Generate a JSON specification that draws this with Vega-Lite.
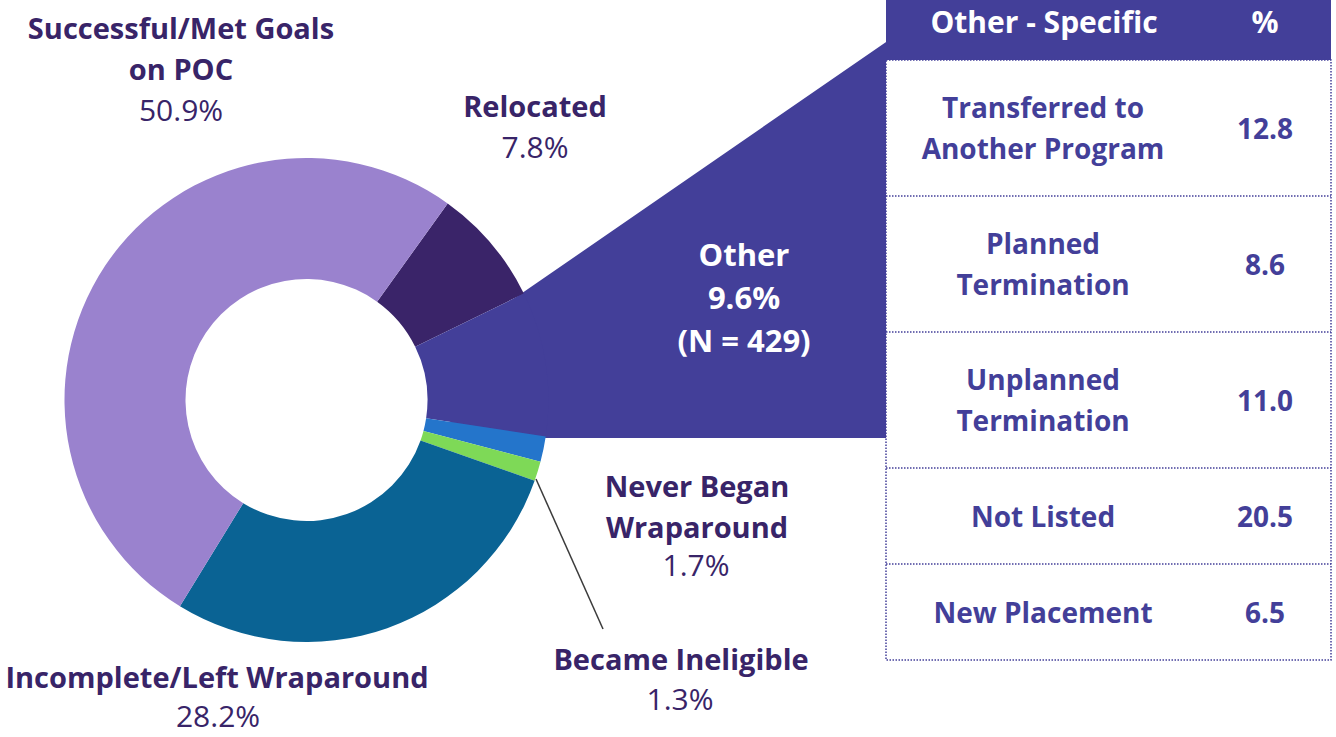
{
  "$schema": "https://vega.github.io/schema/vega-lite/v6.json",
  "width": 1336,
  "height": 737,
  "autosize": {"type": "none"},
  "padding": 0,
  "background": "white",
  "config": {"view": {"stroke": null}, "font": "Open Sans"},
  "datasets": {
    "slices": [
      {"category": "Relocated", "label": "Relocated", "share": 0.078, "ord": 1},
      {"category": "Other", "label": "Other", "share": 0.096, "n": 429, "ord": 2},
      {"category": "Never Began Wraparound", "label": "Never Began\nWraparound", "share": 0.017, "ord": 3},
      {"category": "Became Ineligible", "label": "Became Ineligible", "share": 0.013, "ord": 4},
      {"category": "Incomplete/Left Wraparound", "label": "Incomplete/Left Wraparound", "share": 0.282, "ord": 5},
      {"category": "Successful/Met Goals on POC", "label": "Successful/Met Goals\non POC", "share": 0.509, "ord": 6}
    ],
    "other_specific": [
      {"item": "Transferred to\nAnother Program", "pct": 12.8, "row": 1},
      {"item": "Planned\nTermination", "pct": 8.6, "row": 2},
      {"item": "Unplanned\nTermination", "pct": 11.0, "row": 3},
      {"item": "Not Listed", "pct": 20.5, "row": 4},
      {"item": "New Placement", "pct": 6.5, "row": 5}
    ],
    "columns": [
      {"heading": "Other - Specific", "col": 0},
      {"heading": "%", "col": 1}
    ]
  },
  "layer": [
    {
      "data": {"name": "slices"},
      "transform": [{"filter": "datum.category === 'Other'"}],
      "mark": {"type": "arc", "x": 312, "y": 438, "theta": 0.967, "theta2": 1.5708, "innerRadius": 140, "outerRadius": 760, "fill": "#433F99"},
      "encoding": {}
    },
    {
      "data": {"name": "slices"},
      "mark": {"type": "arc", "x": 306.5, "y": 400, "innerRadius": 121, "outerRadius": 242},
      "encoding": {
        "theta": {"field": "share", "type": "quantitative", "stack": true, "scale": {"domain": [0, 0.995], "range": [0.623, 6.906]}},
        "order": {"field": "ord", "type": "quantitative"},
        "color": {
          "field": "category",
          "type": "nominal",
          "scale": {
            "domain": ["Relocated", "Other", "Never Began Wraparound", "Became Ineligible", "Incomplete/Left Wraparound", "Successful/Met Goals on POC"],
            "range": ["#3A2469", "#433F99", "#2475CB", "#7ED957", "#0A6394", "#9A82CE"]
          },
          "legend": null
        }
      }
    },
    {
      "data": {"values": [{}]},
      "mark": {"type": "rect", "x": 886, "x2": 1331, "y": -50, "y2": 60, "fill": "#433F99"},
      "encoding": {}
    },
    {
      "data": {"values": [{}]},
      "mark": {"type": "rect", "x": 886, "x2": 1331, "y": 60, "y2": 660, "fill": "white", "stroke": "#433F99", "strokeWidth": 1.5, "strokeDash": [1.5, 1.5]},
      "encoding": {}
    },
    {
      "data": {"name": "other_specific"},
      "transform": [{"filter": "datum.row >= 2"}],
      "mark": {"type": "rule", "x": 886, "x2": 1331, "stroke": "#433F99", "strokeWidth": 1.5, "strokeDash": [1.5, 1.5]},
      "encoding": {
        "y": {"field": "row", "type": "quantitative", "scale": {"domain": [2, 3, 4, 5], "range": [196, 332, 468, 564], "nice": false, "zero": false}, "axis": null}
      }
    },
    {
      "data": {"values": [{}]},
      "mark": {"type": "rule", "x": 1200, "y": 60, "y2": 660, "stroke": "#433F99", "strokeWidth": 1.5, "strokeDash": [1.5, 1.5]},
      "encoding": {}
    },
    {
      "data": {"values": [{}]},
      "mark": {"type": "rule", "x": 1200, "y": -50, "y2": 60, "stroke": "#2A2770", "strokeWidth": 1.5, "strokeDash": [1.5, 1.5]},
      "encoding": {}
    },
    {
      "data": {"name": "columns"},
      "mark": {"type": "text", "y": 33, "align": "center", "baseline": "alphabetic", "font": "Open Sans", "fontSize": 30, "fontWeight": "bold", "fill": "white"},
      "encoding": {
        "text": {"field": "heading", "type": "nominal"},
        "x": {"field": "col", "type": "quantitative", "scale": {"domain": [0, 1], "range": [1044, 1265], "nice": false, "zero": false}, "axis": null}
      }
    },
    {
      "data": {"name": "other_specific"},
      "mark": {"type": "text", "x": 1043, "align": "center", "baseline": "alphabetic", "font": "Open Sans", "fontSize": 28, "fontWeight": "bold", "fill": "#433F99", "lineBreak": "\n", "lineHeight": 41},
      "encoding": {
        "text": {"field": "item", "type": "nominal"},
        "y": {"field": "row", "type": "quantitative", "scale": {"domain": [1, 2, 3, 4, 5], "range": [118, 254, 390, 527, 623], "nice": false, "zero": false}, "axis": null}
      }
    },
    {
      "data": {"name": "other_specific"},
      "mark": {"type": "text", "x": 1265, "align": "center", "baseline": "alphabetic", "font": "Open Sans", "fontSize": 28, "fontWeight": "bold", "fill": "#433F99"},
      "encoding": {
        "text": {"field": "pct", "type": "quantitative", "format": ".1f"},
        "y": {"field": "row", "type": "quantitative", "scale": {"domain": [1, 2, 3, 4, 5], "range": [139, 275, 411, 527, 623], "nice": false, "zero": false}, "axis": null}
      }
    },
    {
      "data": {"name": "slices"},
      "transform": [{"filter": "datum.category !== 'Other'"}],
      "mark": {"type": "text", "align": "center", "baseline": "alphabetic", "font": "Open Sans", "fontSize": 29, "fontWeight": "bold", "fill": "#382468", "lineBreak": "\n", "lineHeight": 41},
      "encoding": {
        "text": {"field": "label", "type": "nominal"},
        "x": {"field": "ord", "type": "quantitative", "scale": {"domain": [1, 3, 4, 5, 6], "range": [535, 697, 681, 217, 181], "nice": false, "zero": false}, "axis": null},
        "y": {"field": "ord", "type": "quantitative", "scale": {"domain": [1, 3, 4, 5, 6], "range": [117, 497, 670, 688, 39], "nice": false, "zero": false}, "axis": null}
      }
    },
    {
      "data": {"name": "slices"},
      "transform": [{"filter": "datum.category !== 'Other'"}],
      "mark": {"type": "text", "align": "center", "baseline": "alphabetic", "font": "Open Sans", "fontSize": 30, "fontWeight": "normal", "fill": "#382468"},
      "encoding": {
        "text": {"field": "share", "type": "quantitative", "format": ".1%"},
        "x": {"field": "ord", "type": "quantitative", "scale": {"domain": [1, 3, 4, 5, 6], "range": [535, 696, 680, 218, 181], "nice": false, "zero": false}, "axis": null},
        "y": {"field": "ord", "type": "quantitative", "scale": {"domain": [1, 3, 4, 5, 6], "range": [158, 576, 710, 727, 121], "nice": false, "zero": false}, "axis": null}
      }
    },
    {
      "data": {"name": "slices"},
      "transform": [
        {"filter": "datum.category === 'Other'"},
        {"calculate": "datum.label + '\\n' + format(datum.share, '.1%') + '\\n(N = ' + datum.n + ')'", "as": "caption"}
      ],
      "mark": {"type": "text", "x": 744, "y": 266, "align": "center", "baseline": "alphabetic", "font": "Open Sans", "fontSize": 31, "fontWeight": "bold", "fill": "white", "lineBreak": "\n", "lineHeight": 43},
      "encoding": {
        "text": {"field": "caption", "type": "nominal"}
      }
    },
    {
      "data": {"values": [{}]},
      "mark": {"type": "rule", "stroke": "#3C3C3C", "strokeWidth": 1.5},
      "encoding": {
        "x": {"value": 536},
        "y": {"value": 479},
        "x2": {"value": 603},
        "y2": {"value": 629}
      }
    }
  ],
  "resolve": {"scale": {"x": "independent", "y": "independent", "theta": "independent", "color": "independent"}}
}
